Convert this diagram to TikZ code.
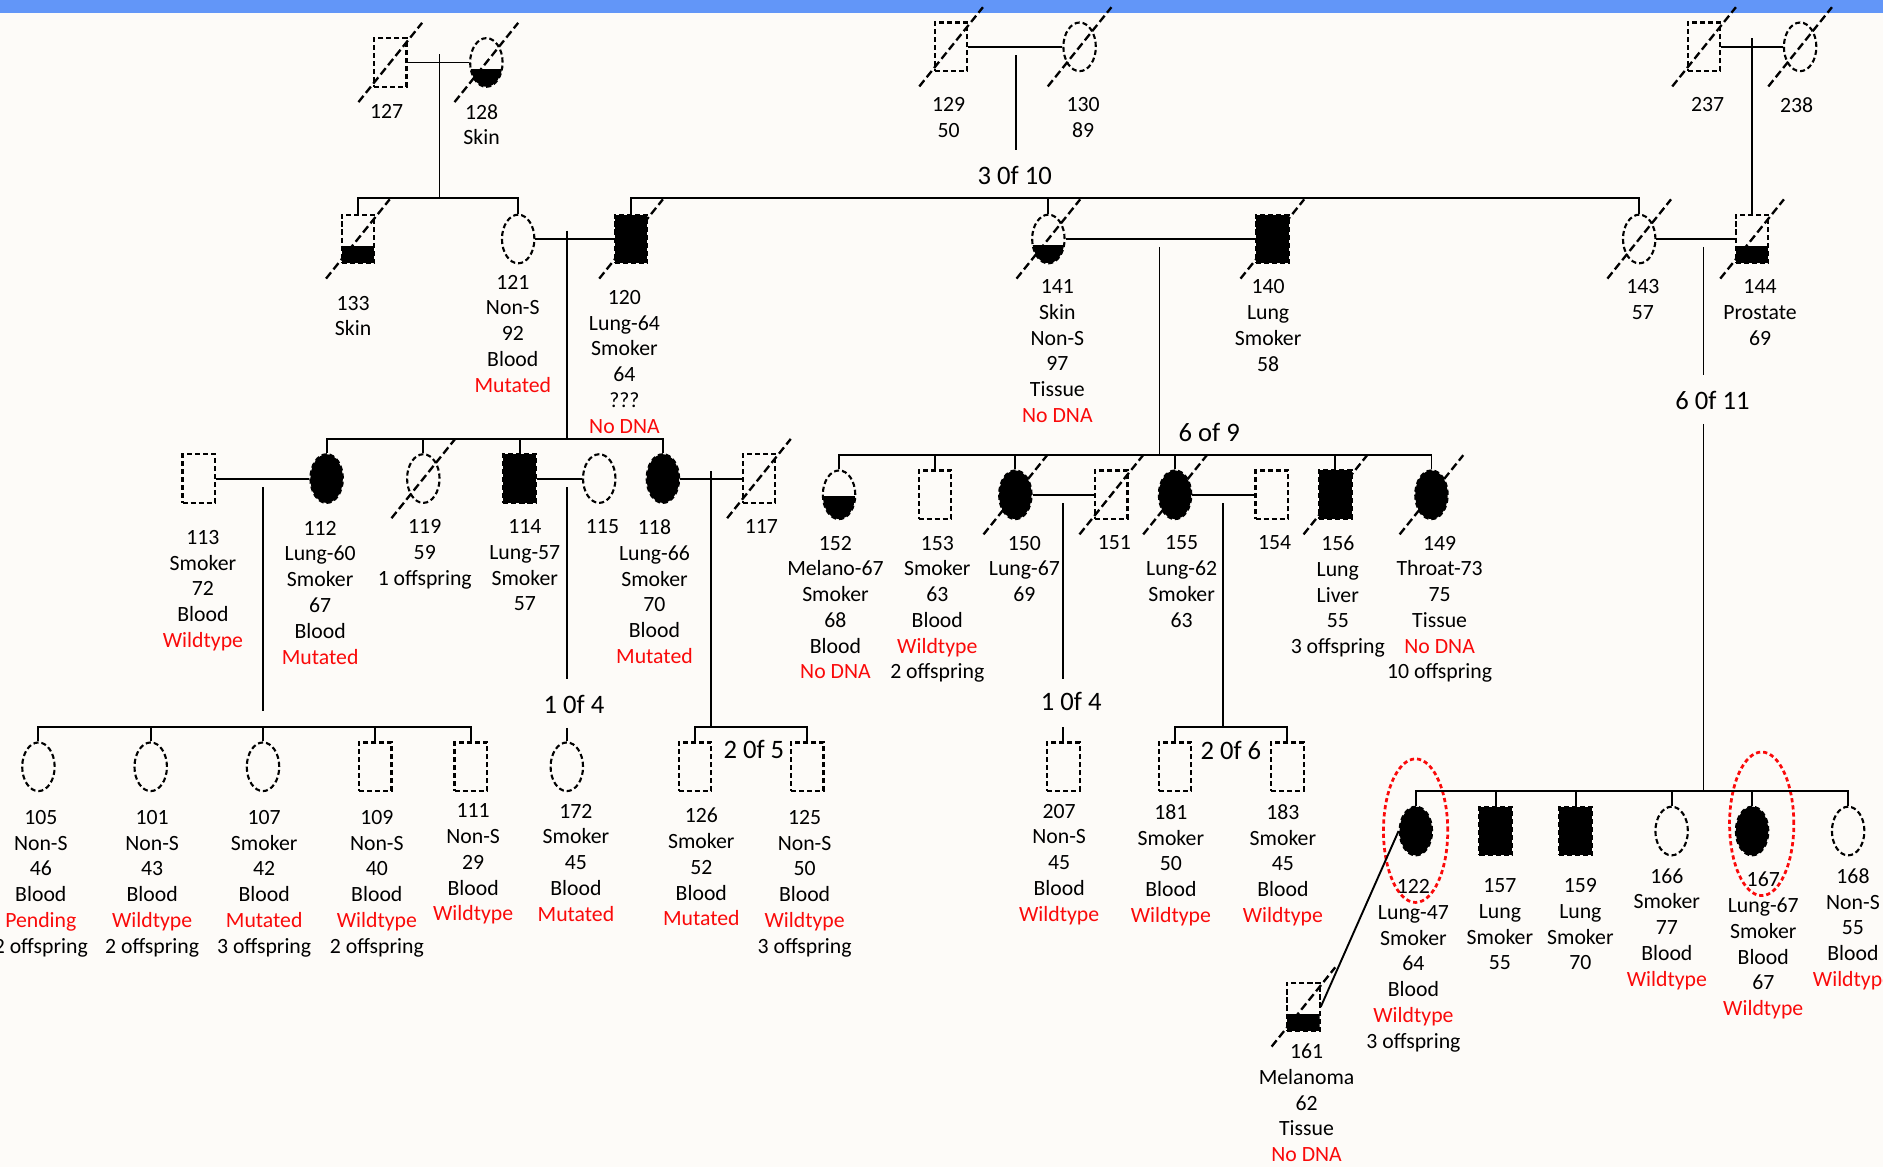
\documentclass[tikz,border=0pt]{standalone}
\usepackage{fontspec}
\setmainfont{Carlito}
\usepackage{xcolor}
\usetikzlibrary{shapes.geometric}
\definecolor{pagebg}{RGB}{253,251,248}
\definecolor{barblue}{RGB}{98,150,248}
\definecolor{statred}{RGB}{250,10,10}
\newcommand{\status}[1]{\textcolor{statred}{#1}}

\begin{document}
\begin{tikzpicture}[x=0.01cm, y=-0.01cm,
  male/.style={draw, rectangle, dash pattern=on 1.2pt off 0.7pt, line width=0.5pt, minimum width=0.27cm, minimum height=0.405cm, inner sep=0pt},
  female/.style={draw, ellipse, dash pattern=on 1.2pt off 0.7pt, line width=0.5pt, minimum width=0.27cm, minimum height=0.405cm, inner sep=0pt},
  aff/.style={fill=black},
  lowfill/.style={path picture={\fill ([yshift=#1]path picture bounding box.south west) rectangle (path picture bounding box.south east);}},
  info/.style={anchor=north, align=center, font=\fontsize{5.15}{6.1}\selectfont, inner sep=0pt},
  tally/.style={anchor=base, font=\fontsize{6.3}{7.5}\selectfont, inner sep=0pt},
  link/.style={line width=0.45pt},
  slash/.style={dash pattern=on 1.9pt off 0.9pt, line width=0.55pt},
  ring/.style={draw=statred, ellipse, dash pattern=on 1pt off 0.7pt, line width=0.65pt, minimum width=0.535cm, minimum height=1.195cm, inner sep=0pt},
]
\useasboundingbox (0,0) rectangle (1568,972);
\fill[pagebg] (0,0) rectangle (1568,972);
\fill[barblue] (0,0) rectangle (1568,10.6);

% generation I
\node[male] (p127) at (325,52) {};
\node[female, lowfill=0.15cm] (p128) at (405,52) {};
\node[male] (p129) at (792,39) {};
\node[female] (p130) at (899,39) {};
\node[male] (p237) at (1419,39) {};
\node[female] (p238) at (1499,39) {};

% generation II
\node[male, lowfill=0.14cm] (p133) at (298,199) {};
\node[female] (p121) at (431.5,199) {};
\node[male, aff] (p120) at (525.5,199) {};
\node[female, lowfill=0.15cm] (p141) at (873,199) {};
\node[male, aff] (p140) at (1059.5,199) {};
\node[female] (p143) at (1365,199) {};
\node[male, lowfill=0.14cm] (p144) at (1459,199) {};

% generation III
\node[male] (p113) at (165.5,398.5) {};
\node[female, aff] (p112) at (272,398.5) {};
\node[female] (p119) at (352.5,398.5) {};
\node[male, aff] (p114) at (432.7,398.5) {};
\node[female] (p115) at (499,398.5) {};
\node[female, aff] (p118) at (552,398.5) {};
\node[male] (p117) at (632,398.5) {};
\node[female, lowfill=0.195cm] (p152) at (698.7,412) {};
\node[male] (p153) at (778.5,412) {};
\node[female, aff] (p150) at (845.5,412) {};
\node[male] (p151) at (925.4,412) {};
\node[female, aff] (p155) at (978.5,412) {};
\node[male] (p154) at (1059,412) {};
\node[male, aff] (p156) at (1112,412) {};
\node[female, aff] (p149) at (1192,412) {};

% generation IV
\node[female] (p105) at (32,638.5) {};
\node[female] (p101) at (125.5,638.5) {};
\node[female] (p107) at (219,638.5) {};
\node[male] (p109) at (312.5,638.5) {};
\node[male] (p111) at (392,638.5) {};
\node[female] (p172) at (472,638.5) {};
\node[male] (p126) at (578.6,638.5) {};
\node[male] (p125) at (672.2,638.5) {};
\node[male] (p207) at (885.5,638.5) {};
\node[male] (p181) at (978.6,638.5) {};
\node[male] (p183) at (1072,638.5) {};
\node[female, aff] (p122) at (1179,692) {};
\node[male, aff] (p157) at (1245.5,692) {};
\node[male, aff] (p159) at (1312,692) {};
\node[female] (p166) at (1392,692) {};
\node[female, aff] (p167) at (1459,692) {};
\node[female] (p168) at (1539,692) {};
\node[male, lowfill=0.14cm] (p161) at (1085.4,838.5) {};

\node[ring] (ring122) at (1178.8,691.7) {};
\node[ring] (ring167) at (1467,686) {};

% couples
\draw[link] (p127) -- (p128);
\draw[link] (p129) -- (p130);
\draw[link] (p237) -- (p238);
\draw[link] (p121) -- (p120);
\draw[link] (p141) -- (p140);
\draw[link] (p143) -- (p144);
\draw[link] (p113) -- (p112);
\draw[link] (p114) -- (p115);
\draw[link] (p118) -- (p117);
\draw[link] (p150) -- (p151);
\draw[link] (p155) -- (p154);

% descent and sibships
\coordinate (k1) at (366,45);
\coordinate (j1) at (366,165);
\draw[link] (k1) -- (j1);
\draw[link] (p133.north) |- (j1) -| (p121.north);

\coordinate (k2) at (846,46);
\coordinate (k2b) at (846,125);
\draw[link] (k2) -- (k2b);
\draw[link] (p120.north) |- (p143.north |- j1) -- (p143.north);
\draw[link] (p141.north) -- (p141.north |- j1);

\coordinate (k3) at (1459,32);
\draw[link] (k3) -- (p144.north);

\coordinate (k4) at (472,192);
\coordinate (j4) at (472,365.5);
\draw[link] (k4) -- (j4);
\draw[link] (p112.north) |- (p118.north |- j4) -- (p118.north);
\foreach \c in {p119,p114}
  \draw[link] (\c.north) -- (\c.north |- j4);

\coordinate (k5) at (965.5,205.6);
\coordinate (j5) at (965.5,378.6);
\draw[link] (k5) -- (j5);
\draw[link] (p152.north) |- (p149.north |- j5) -- (p149.north);
\foreach \c in {p153,p150,p155,p156}
  \draw[link] (\c.north) -- (\c.north |- j5);

\coordinate (k6) at (1418.5,205.6);
\coordinate (k6b) at (1418.5,312);
\coordinate (k6c) at (1418.5,353);
\coordinate (j6) at (1418.5,658.9);
\draw[link] (k6) -- (k6b);
\draw[link] (k6c) -- (j6);
\draw[link] (p122.north) |- (p168.north |- j6) -- (p168.north);
\foreach \c in {p157,p159,p166,p167}
  \draw[link] (\c.north) -- (\c.north |- j6);

\coordinate (k7) at (219,405.6);
\coordinate (k7b) at (219,591.7);
\coordinate (j7) at (219,605);
\draw[link] (k7) -- (k7b);
\draw[link] (p105.north) |- (p111.north |- j7) -- (p111.north);
\foreach \c in {p101,p107,p109}
  \draw[link] (\c.north) -- (\c.north |- j7);

\coordinate (k8) at (472,405.6);
\coordinate (k8b) at (472,565);
\coordinate (k8c) at (472,606);
\draw[link] (k8) -- (k8b);
\draw[link] (k8c) -- (p172.north);

\coordinate (k9) at (592,392.6);
\coordinate (j9) at (592,605);
\draw[link] (k9) -- (j9);
\draw[link] (p126.north) |- (p125.north |- j9) -- (p125.north);

\coordinate (k10) at (885.5,419);
\coordinate (k10b) at (885.5,565);
\coordinate (k10c) at (885.5,605.6);
\draw[link] (k10) -- (k10b);
\draw[link] (k10c) -- (p207.north);

\coordinate (k11) at (1018.5,419);
\coordinate (j11) at (1018.5,605);
\draw[link] (k11) -- (j11);
\draw[link] (p181.north) |- (p183.north |- j11) -- (p183.north);

\draw[link] (p122.west) -- (p161.east);

% deceased
\foreach \p in {p127,p128,p129,p130,p237,p238,p133,p120,p141,p140,p143,p144,p119,p117,p150,p151,p155,p156,p149,p161}
  \draw[slash] ([shift={(-26.5,33)}]\p.center) -- ([shift={(26.5,-33)}]\p.center);

% sibship counts
\node[tally] (n1) at (845,154) {3 0f 10};
\node[tally] (n2) at (1007,368) {6 of 9};
\node[tally] (n3) at (1426,341) {6 0f 11};
\node[tally] (n4) at (478,594.5) {1 0f 4};
\node[tally] (n5) at (892,591.7) {1 0f 4};
\node[tally] (n6) at (627.8,632) {2 0f 5};
\node[tally] (n7) at (1025,632.6) {2 0f 6};

% labels
\node[info] (t127) at (322,86.2) {127};
\node[info] (t128) at (401,86.2) {128\\Skin};
\node[info] (t129) at (790,80.2) {129\\50};
\node[info] (t130) at (902,80.2) {130\\89};
\node[info] (t237) at (1422,80.2) {237};
\node[info] (t238) at (1496,80.2) {238};

\node[info] (t133) at (294,245.7) {133\\Skin};
\node[info] (t121) at (427,228.2) {121\\Non-S\\92\\Blood\\\status{Mutated}};
\node[info] (t120) at (520,240.9) {120\\Lung-64\\Smoker\\64\\???\\\status{No DNA}};
\node[info] (t141) at (880.5,232.2) {141\\Skin\\Non-S\\97\\Tissue\\\status{No DNA}};
\node[info] (t140) at (1056,232.2) {140\\Lung\\Smoker\\58};
\node[info] (t143) at (1368,232.2) {143\\57};
\node[info] (t144) at (1465.6,232.2) {144\\Prostate\\69};

\node[info] (t113) at (169,440.9) {113\\Smoker\\72\\Blood\\\status{Wildtype}};
\node[info] (t112) at (266.6,433.2) {112\\Lung-60\\Smoker\\67\\Blood\\\status{Mutated}};
\node[info] (t119) at (353.7,432) {119\\59\\1 offspring};
\node[info] (t114) at (437,432) {114\\Lung-57\\Smoker\\57};
\node[info] (t115) at (501.7,432) {115};
\node[info] (t118) at (545,432) {118\\Lung-66\\Smoker\\70\\Blood\\\status{Mutated}};
\node[info] (t117) at (634,432) {117};
\node[info] (t152) at (695.7,445.6) {152\\Melano-67\\Smoker\\68\\Blood\\\status{No DNA}};
\node[info] (t153) at (780.5,445.6) {153\\Smoker\\63\\Blood\\\status{Wildtype}\\2 offspring};
\node[info] (t150) at (853,445.6) {150\\Lung-67\\69};
\node[info] (t151) at (928,445.6) {151};
\node[info] (t155) at (984,445.6) {155\\Lung-62\\Smoker\\63};
\node[info] (t154) at (1061.4,445.6) {154};
\node[info] (t156) at (1114,445.6) {156\\Lung\\Liver\\55\\3 offspring};
\node[info] (t149) at (1198.8,445.6) {149\\Throat-73\\75\\Tissue\\\status{No DNA}\\10 offspring};

\node[info] (t105) at (34,674) {105\\Non-S\\46\\Blood\\\status{Pending}\\2 offspring};
\node[info] (t101) at (126.7,674) {101\\Non-S\\43\\Blood\\\status{Wildtype}\\2 offspring};
\node[info] (t107) at (220,674) {107\\Smoker\\42\\Blood\\\status{Mutated}\\3 offspring};
\node[info] (t109) at (313.8,674) {109\\Non-S\\40\\Blood\\\status{Wildtype}\\2 offspring};
\node[info] (t111) at (394,668.7) {111\\Non-S\\29\\Blood\\\status{Wildtype}};
\node[info] (t172) at (479.6,668.7) {172\\Smoker\\45\\Blood\\\status{Mutated}};
\node[info] (t126) at (584,672.2) {126\\Smoker\\52\\Blood\\\status{Mutated}};
\node[info] (t125) at (670,674) {125\\Non-S\\50\\Blood\\\status{Wildtype}\\3 offspring};
\node[info] (t207) at (882,668.7) {207\\Non-S\\45\\Blood\\\status{Wildtype}};
\node[info] (t181) at (975,669.2) {181\\Smoker\\50\\Blood\\\status{Wildtype}};
\node[info] (t183) at (1068.3,669.2) {183\\Smoker\\45\\Blood\\\status{Wildtype}};
\node[info] (t122) at (1177,731.7) {122\\Lung-47\\Smoker\\64\\Blood\\\status{Wildtype}\\3 offspring};
\node[info] (t157) at (1249,730.9) {157\\Lung\\Smoker\\55};
\node[info] (t159) at (1316,730.9) {159\\Lung\\Smoker\\70};
\node[info] (t166) at (1388,722.5) {166\\Smoker\\77\\Blood\\\status{Wildtype}};
\node[info] (t167) at (1468.3,725.6) {167\\Lung-67\\Smoker\\Blood\\67\\\status{Wildtype}};
\node[info] (t168) at (1543,722.5) {168\\Non-S\\55\\Blood\\\status{Wildtype}};
\node[info] (t161) at (1088,868.6) {161\\Melanoma\\62\\Tissue\\\status{No DNA}};
\end{tikzpicture}
\end{document}
